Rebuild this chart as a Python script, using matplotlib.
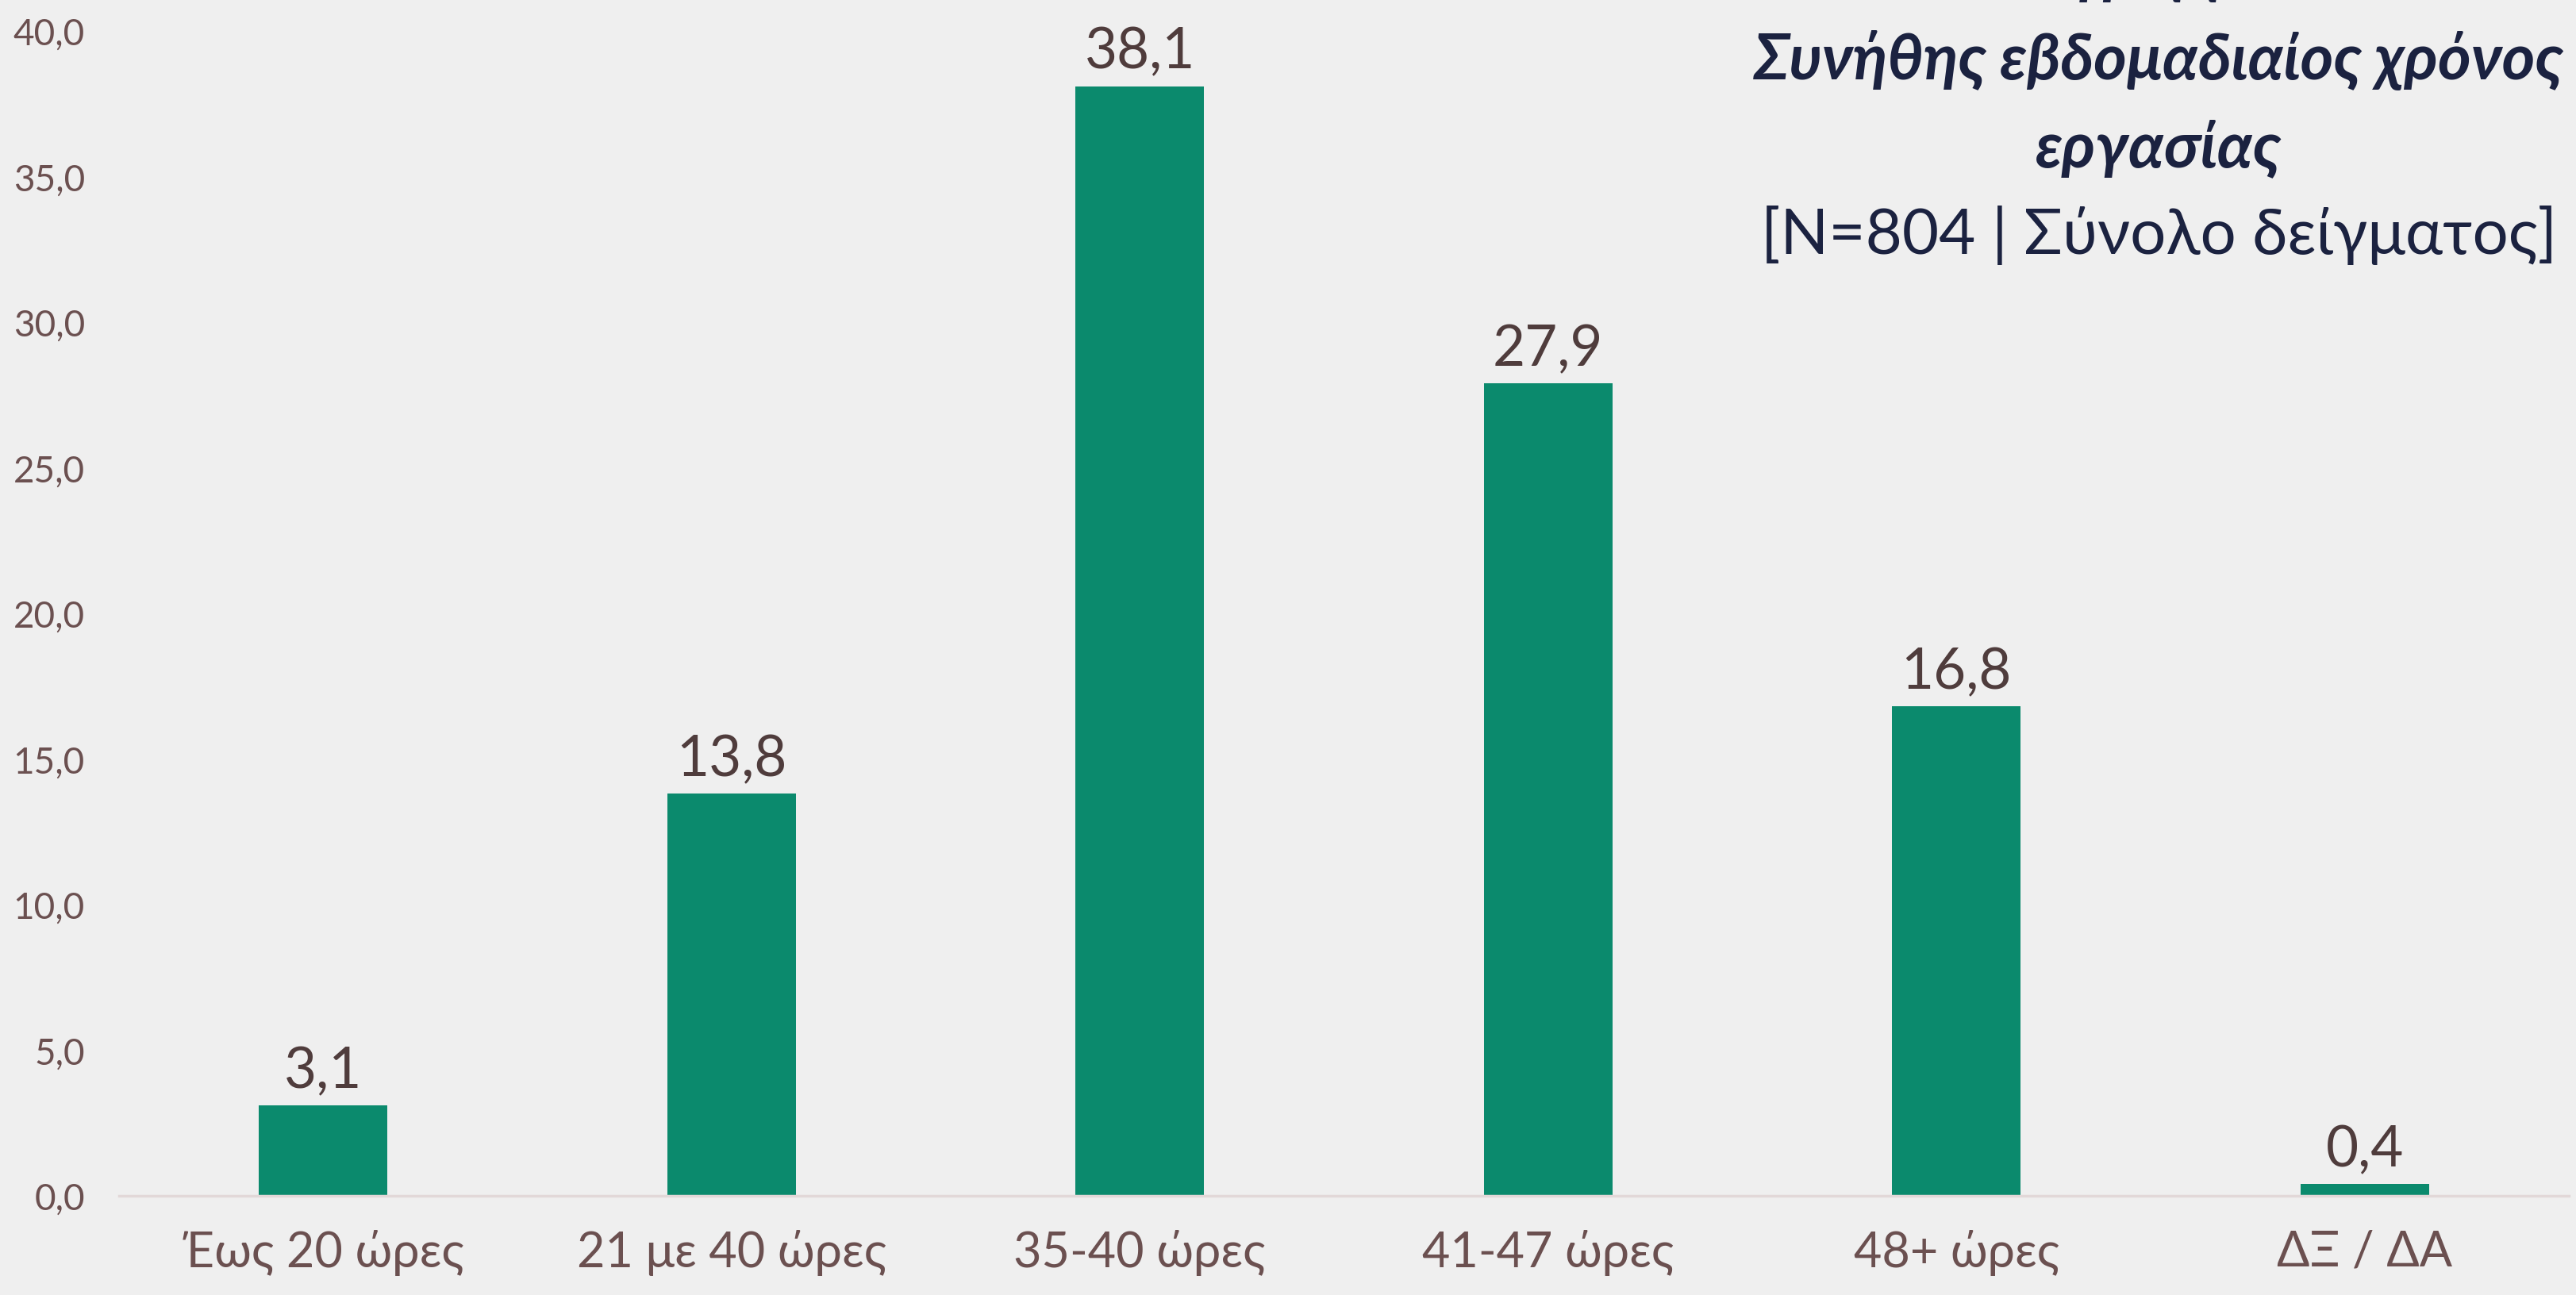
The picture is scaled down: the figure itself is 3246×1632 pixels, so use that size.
import matplotlib
matplotlib.use("Agg")
import matplotlib.pyplot as plt
import numpy as np

plt.rcParams['font.family'] = ['Lato', 'DejaVu Sans']

categories = ["Έως 20 ώρες", "21 με 40 ώρες", "35-40 ώρες", "41-47 ώρες", "48+ ώρες", "ΔΞ / ΔΑ"]
values = [3.1, 13.8, 38.1, 27.9, 16.8, 0.4]
yticks = [0, 5, 10, 15, 20, 25, 30, 35, 40]

bg = "#efefef"
bar_color = "#0b8a6d"
tick_color = "#6b5050"
value_color = "#4f3c3c"
title_color = "#1b2240"

fig = plt.figure(figsize=(32.46, 16.33), dpi=100, facecolor=bg)
ax = fig.add_axes([0.0462, 0.0766, 0.951, 0.8989], facecolor=bg)

x = np.arange(len(categories))
bars = ax.bar(x, values, width=0.315, color=bar_color, zorder=3)

for xi, v in zip(x, values):
    ax.annotate(f"{v:.1f}".replace(".", ","), (xi, v), xytext=(0, 8),
                textcoords="offset points", ha="center", va="bottom",
                fontsize=51, color=value_color)

ax.set_xlim(-0.5, len(categories) - 0.5)
ax.set_ylim(0, 40)
ax.set_yticks(yticks)
ax.set_yticklabels([f"{t:.1f}".replace(".", ",") for t in yticks])
ax.set_xticks(x)
ax.set_xticklabels(categories)

ax.tick_params(axis="y", length=0, pad=31, labelsize=33, labelcolor=tick_color)
ax.tick_params(axis="x", length=0, pad=30, labelsize=44, labelcolor=tick_color)

for side in ["top", "right", "left"]:
    ax.spines[side].set_visible(False)
ax.spines["bottom"].set_color("#e2d8d8")
ax.spines["bottom"].set_linewidth(2.5)
ax.spines["bottom"].set_zorder(4)

# title block, top line cut off by the canvas edge
title_size = 57.5
fig.text(0.836, 1.0 + 10 / 1633, "Διάγραμμα 7", ha="center", va="baseline",
         fontsize=title_size, fontweight="bold", fontstyle="italic", color=title_color)
fig.text(0.838, 1 - 100 / 1633, "Συνήθης εβδομαδιαίος χρόνος", ha="center", va="baseline",
         fontsize=title_size, fontweight="bold", fontstyle="italic", color=title_color)
fig.text(0.838, 1 - 210 / 1633, "εργασίας", ha="center", va="baseline",
         fontsize=title_size, fontweight="bold", fontstyle="italic", color=title_color)
fig.text(0.838, 1 - 320 / 1633, "[N=804 | Σύνολο δείγματος]", ha="center", va="baseline",
         fontsize=title_size, color=title_color)

fig.savefig("out.png", dpi=100, facecolor=bg)
